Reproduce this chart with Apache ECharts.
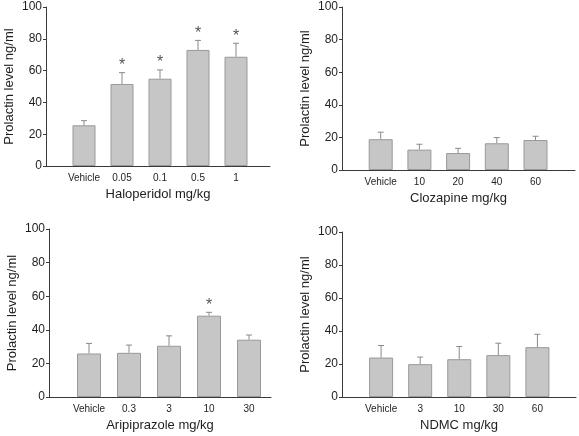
<!DOCTYPE html>
<html>
<head>
<meta charset="utf-8">
<script src="https://cdn.jsdelivr.net/npm/echarts@6/dist/echarts.min.js"></script>
<style>
html,body{margin:0;padding:0;background:#fff;}
#c{width:579px;height:436px;}
</style>
</head>
<body>
<div id="c"></div>
<script>
// ---- data ----
const yTicks = [0, 20, 40, 60, 80, 100];
const yName = 'Prolactin level ng/ml';

const halName = 'Haloperidol mg/kg';
const halCats = ['Vehicle', '0.05', '0.1', '0.5', '1'];
const halMeans = [25.6, 51.6, 54.9, 73.0, 68.7];
const halErrs = [2.9, 7.1, 5.5, 6.0, 8.5];
const halSig = [0, 1, 1, 1, 1];

const cloName = 'Clozapine mg/kg';
const cloCats = ['Vehicle', '10', '20', '40', '60'];
const cloMeans = [18.9, 12.5, 10.4, 16.4, 18.4];
const cloErrs = [4.3, 3.3, 2.9, 3.5, 2.3];
const cloSig = [0, 0, 0, 0, 0];

const ariName = 'Aripiprazole mg/kg';
const ariCats = ['Vehicle', '0.3', '3', '10', '30'];
const ariMeans = [25.9, 26.3, 30.5, 48.4, 34.1];
const ariErrs = [6.0, 4.6, 5.9, 2.0, 2.8];
const ariSig = [0, 0, 0, 1, 0];

const ndmName = 'NDMC mg/kg';
const ndmCats = ['Vehicle', '3', '10', '30', '60'];
const ndmMeans = [23.9, 19.9, 22.9, 25.4, 30.2];
const ndmErrs = [7.3, 4.3, 7.7, 7.2, 7.8];
const ndmSig = [0, 0, 0, 0, 0];

// ---- layout ----
const panels = [
  {name: halName, cats: halCats, means: halMeans, errs: halErrs, sig: halSig,
   left: 46, top: 7, width: 224, height: 159, spacing: 38, barW: 23},
  {name: cloName, cats: cloCats, means: cloMeans, errs: cloErrs, sig: cloSig,
   left: 342, top: 7, width: 233, height: 163, spacing: 38.7, barW: 24},
  {name: ariName, cats: ariCats, means: ariMeans, errs: ariErrs, sig: ariSig,
   left: 49, top: 229, width: 222, height: 168, spacing: 40, barW: 24},
  {name: ndmName, cats: ndmCats, means: ndmMeans, errs: ndmErrs, sig: ndmSig,
   left: 342, top: 232, width: 235, height: 165, spacing: 39.25, barW: 24}
];

const FONT = 'Liberation Sans, Arial, Helvetica, sans-serif';
const TXT = '#1e1e1e';
const AX = '#3a3a3a';

const grid = [], xAxis = [], yAxis = [], series = [];
panels.forEach((p, i) => {
  grid.push({left: p.left, top: p.top, width: p.width, height: p.height});
  xAxis.push({
    type: 'value', gridIndex: i, min: 0, max: p.width / p.spacing, interval: 1,
    name: p.name, nameLocation: 'middle', nameGap: 22,
    nameTextStyle: {fontFamily: FONT, fontSize: 13, color: TXT},
    axisLine: {lineStyle: {color: AX, width: 1}},
    axisTick: {show: false},
    splitLine: {show: false},
    axisLabel: {
      fontFamily: FONT, fontSize: 10, color: TXT, margin: 7,
      showMinLabel: true, showMaxLabel: true,
      formatter: (v) => {
        const k = Math.round(v);
        if (Math.abs(v - k) > 1e-6 || k < 1 || k > p.cats.length) return '';
        return p.cats[k - 1];
      }
    }
  });
  yAxis.push({
    type: 'value', gridIndex: i, min: yTicks[0], max: yTicks[yTicks.length - 1],
    interval: yTicks[1] - yTicks[0],
    name: yName, nameLocation: 'middle', nameGap: 30, nameRotate: 90,
    nameTextStyle: {fontFamily: FONT, fontSize: 13, color: TXT},
    axisLine: {show: true, lineStyle: {color: AX, width: 1}},
    axisTick: {show: true, length: 3, lineStyle: {color: AX}},
    splitLine: {show: false},
    axisLabel: {fontFamily: FONT, fontSize: 12, color: TXT, margin: 4}
  });
  series.push({
    type: 'bar', xAxisIndex: i, yAxisIndex: i, barWidth: p.barW,
    data: p.means.map((m, j) => [j + 1, m]),
    itemStyle: {color: '#c6c6c6', borderColor: '#999999', borderWidth: 1},
    silent: true, animation: false
  });
  series.push({
    type: 'custom', xAxisIndex: i, yAxisIndex: i, z: 5,
    data: p.means.map((m, j) => [j + 1, m, p.errs[j], p.sig[j]]),
    renderItem: (params, api) => {
      const x = api.value(0), m = api.value(1), e = api.value(2), s = api.value(3);
      const a = api.coord([x, m]);
      const b = api.coord([x, m + e]);
      const st = {stroke: '#8a8a8a', lineWidth: 1};
      const children = [
        {type: 'line', shape: {x1: a[0], y1: a[1], x2: b[0], y2: b[1]}, style: st},
        {type: 'line', shape: {x1: b[0] - 3, y1: b[1], x2: b[0] + 3, y2: b[1]}, style: st}
      ];
      if (s) {
        children.push({type: 'text', style: {
          text: '*', x: b[0], y: b[1] + 1, textAlign: 'center', textVerticalAlign: 'bottom',
          fontFamily: FONT, fontSize: 16, fill: '#555'
        }});
      }
      return {type: 'group', children};
    },
    silent: true, animation: false
  });
});

const chart = echarts.init(document.getElementById('c'), null, {renderer: 'canvas'});
chart.setOption({animation: false, backgroundColor: '#fff', grid, xAxis, yAxis, series});
</script>
</body>
</html>
